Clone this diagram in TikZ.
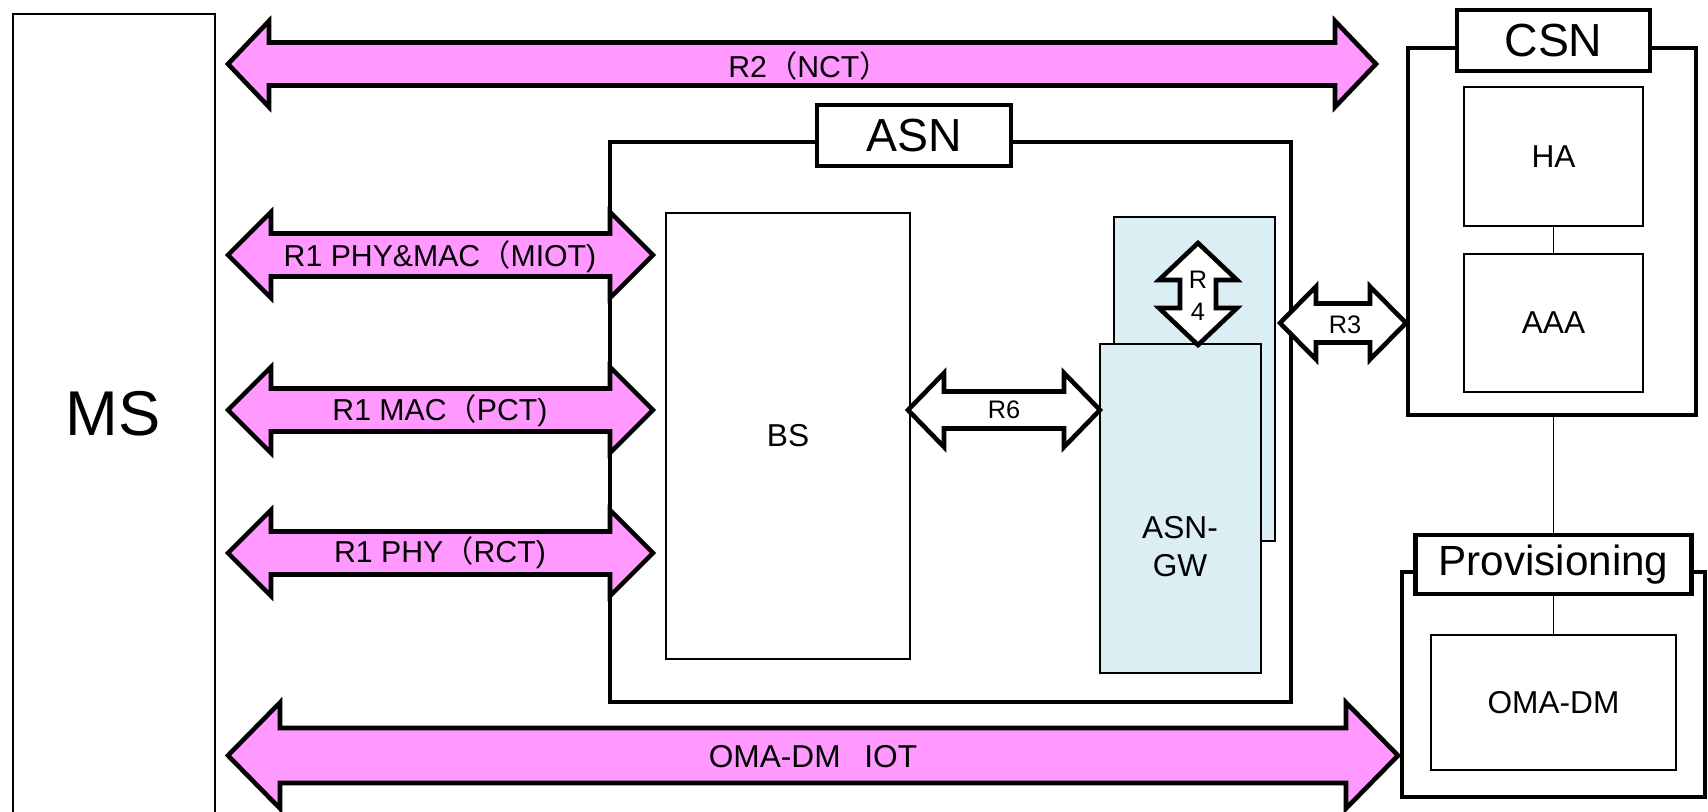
\documentclass[tikz,border=0pt]{standalone}
\usepackage{fontspec}
\setmainfont{Liberation Sans}
\newfontfamily\cjk{Noto Sans CJK JP}
\newcommand\fwl{{\cjk （}}
\newcommand\fwr{{\cjk ）}}
\definecolor{linkpink}{HTML}{FF99FF}
\definecolor{gwblue}{HTML}{DBEEF3}
\newcommand\fsmall{\fontsize{9}{10.8}\selectfont}
\newcommand\fband{\fontsize{8.6}{10}\selectfont}
\newcommand\ftiny{\fontsize{7.2}{9.1}\selectfont}
\newcommand\ftitle{\fontsize{13.2}{15}\selectfont}
\newcommand\fprov{\fontsize{12}{14}\selectfont}
\newcommand\fbig{\fontsize{18}{21}\selectfont}
% horizontal block arrow: style, left tip x, right tip x, axis y, shaft half-width, head half-width, head length
\newcommand\hblock[7]{%
  \draw[#1] (#2,#4) -- (#2+#7,#4-#6) -- (#2+#7,#4-#5) -- (#3-#7,#4-#5) -- (#3-#7,#4-#6)
    -- (#3,#4) -- (#3-#7,#4+#6) -- (#3-#7,#4+#5) -- (#2+#7,#4+#5) -- (#2+#7,#4+#6) -- cycle;}
% vertical block arrow: style, top tip y, bottom tip y, axis x, shaft half-width, head half-width, head length
\newcommand\vblock[7]{%
  \draw[#1] (#4,#2) -- (#4+#6,#2+#7) -- (#4+#5,#2+#7) -- (#4+#5,#3-#7) -- (#4+#6,#3-#7)
    -- (#4,#3) -- (#4-#6,#3-#7) -- (#4-#5,#3-#7) -- (#4-#5,#2+#7) -- (#4-#6,#2+#7) -- cycle;}
\begin{document}
\begin{tikzpicture}[x=0.01cm,y=-0.01cm,
  frame/.style={draw, line width=1.3pt, inner sep=0pt},
  titlebox/.style={draw, line width=1.3pt, fill=white, inner sep=0pt},
  thinbox/.style={draw, line width=0.5pt, fill=white, inner sep=0pt, font=\fsmall},
  gwbox/.style={draw, line width=0.5pt, fill=gwblue, inner sep=0pt},
  pinkarrow/.style={draw, line width=1.3pt, line join=miter, fill=linkpink},
  whitearrow/.style={draw, line width=1.3pt, line join=miter, fill=white},
  link/.style={draw, line width=0.5pt},
  bandlabel/.style={font=\fband, inner sep=0pt},
  reflabel/.style={font=\ftiny, inner sep=0pt, align=center}]
\useasboundingbox (0,0) rectangle (1708,812);
\fill[white] (0,0) rectangle (1708,812);

% mobile station
\node[draw, line width=0.5pt, inner sep=0pt, anchor=north west,
      minimum width=2.02cm, minimum height=8.6cm] (ms) at (12,13) {};
\node[font=\fbig] (mstext) at (113,414) {MS};

% access service network
\node[frame, minimum width=6.81cm, minimum height=5.60cm] (asn) at (950.5,422) {};
\node[thinbox, minimum width=2.44cm, minimum height=4.46cm] (bs) at (788,436) {BS};
\node[gwbox, minimum width=1.61cm, minimum height=3.24cm] (gwback) at (1194.5,379) {};
\node[gwbox, minimum width=1.61cm, minimum height=3.29cm] (gw) at (1180.5,508.5) {};
\node[font=\fsmall, align=center, inner sep=0pt] (gwtext) at (1180,547) {ASN-\\GW};
\node[titlebox, font=\ftitle, minimum width=1.94cm, minimum height=0.61cm] (asnlbl) at (914,135.5) {ASN};

% reference points towards the mobile station
\hblock{pinkarrow}{228}{1376}{64}{21.5}{43}{41}
\node[bandlabel] (r2) at (809,66) {R2\fwl NCT\fwr};
\hblock{pinkarrow}{228}{653}{255}{21.5}{43}{43}
\node[bandlabel] (r1a) at (440,257) {R1 PHY\&MAC\fwl MIOT)};
\hblock{pinkarrow}{228}{653}{410}{21.5}{43}{43}
\node[bandlabel] (r1b) at (440,411) {R1 MAC\fwl PCT)};
\hblock{pinkarrow}{228}{653}{553}{21.5}{43}{43}
\node[bandlabel] (r1c) at (440,553) {R1 PHY\fwl RCT)};
\hblock{pinkarrow}{228}{1398}{755.5}{27.5}{53}{52}
\node[bandlabel, font=\fsmall] (oma) at (813,757) {OMA-DM\hspace{0.75em}IOT};

% internal reference points
\hblock{whitearrow}{908}{1100}{410}{18.5}{37}{36}
\node[reflabel] (r6) at (1004,410) {R6};
\vblock{whitearrow}{243}{345}{1198}{18}{39}{37}
\node[reflabel] (r4) at (1198,296) {R\\4};
\hblock{whitearrow}{1280}{1406}{323}{19.5}{36.5}{36}
\node[reflabel] (r3) at (1345,325) {R3};

% connectivity service network
\node[frame, minimum width=2.88cm, minimum height=3.67cm] (csn) at (1552,231.5) {};
\node[titlebox, font=\ftitle, minimum width=1.93cm, minimum height=0.61cm] (csnlbl) at (1553.5,40.5) {CSN};
\node[thinbox, minimum width=1.79cm, minimum height=1.39cm] (ha) at (1553.5,156.5) {HA};
\node[thinbox, minimum width=1.79cm, minimum height=1.38cm] (aaa) at (1553.5,323) {AAA};
\draw[link] (ha) -- (aaa);

% provisioning
\node[frame, minimum width=3.03cm, minimum height=2.25cm] (prov) at (1553.5,684.5) {};
\node[titlebox, font=\fprov, minimum width=2.76cm, minimum height=0.59cm] (provlbl) at (1553.5,564.5) {Provisioning};
\node[thinbox, minimum width=2.45cm, minimum height=1.35cm] (omadm) at (1553.5,702.5) {OMA-DM};
\draw[link] (ha.south |- csn.south) -- (provlbl.north);
\draw[link] (provlbl) -- (omadm);
\end{tikzpicture}
\end{document}
